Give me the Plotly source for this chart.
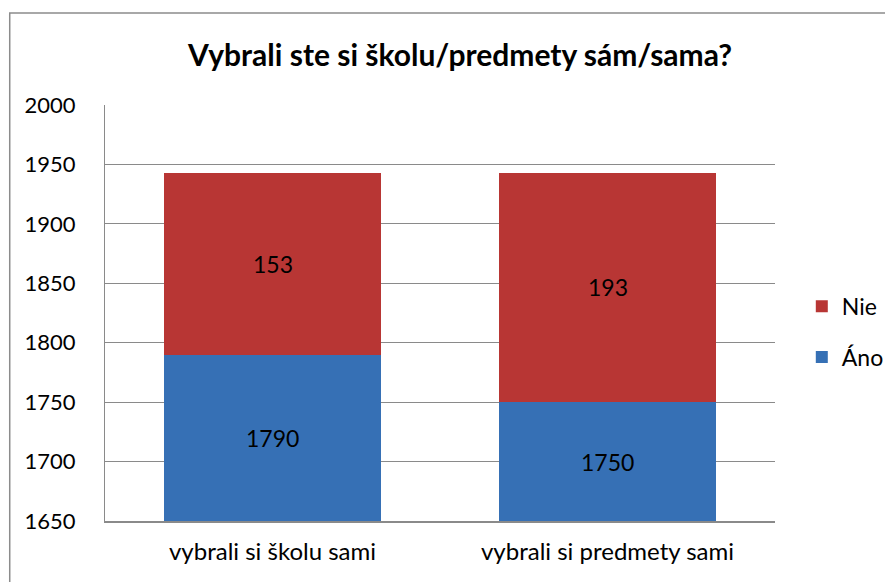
import plotly.graph_objects as go

categories = ["vybrali si školu sami", "vybrali si predmety sami"]
ano = [1790, 1750]
nie = [153, 193]
y_ticks = [1650, 1700, 1750, 1800, 1850, 1900, 1950, 2000]
title = "Vybrali ste si školu/predmety sám/sama?"

FONT = "Lato, 'Open Sans', sans-serif"
y_min, y_max = 1650, 2000

fig = go.Figure()
fig.add_trace(go.Bar(x=categories, y=ano, name="Áno", marker_color="#3670B5",
                     marker_line_width=0, width=0.65, legendgroup="a", legendrank=2,
                     hoverinfo="y"))
fig.add_trace(go.Bar(x=categories, y=nie, name="Nie", marker_color="#B83634",
                     marker_line_width=0, width=0.65, legendgroup="n", legendrank=1,
                     hoverinfo="y"))

# data labels centred in the visible part of each segment
for c, a, n in zip(categories, ano, nie):
    fig.add_annotation(x=c, y=(y_min + a) / 2, text=str(a), showarrow=False,
                       font=dict(family=FONT, size=23, color="black"))
    fig.add_annotation(x=c, y=(max(y_min, a) + a + n) / 2, text=str(n), showarrow=False,
                       font=dict(family=FONT, size=23, color="black"))

# outer chart border
fig.add_shape(type="rect", xref="paper", yref="paper",
              x0=-0.1422, x1=1.3, y0=-0.3, y1=1.2212,
              line=dict(color="#8C8C8C", width=1.5), fillcolor="rgba(0,0,0,0)", layer="below")

fig.update_layout(
    width=893, height=582,
    margin=dict(l=97, r=124, t=97, b=69),
    paper_bgcolor="white", plot_bgcolor="white",
    barmode="stack",
    font=dict(family=FONT, size=23, color="black"),
    title=dict(text="<b>" + title + "</b>", x=448 / 885, xanchor="center",
               y=1 - 47 / 582, yanchor="middle", font=dict(family=FONT, size=30, color="black")),
    legend=dict(x=1.04, y=0.455, xanchor="left", yanchor="middle",
                traceorder="grouped", tracegroupgap=18,
                font=dict(family=FONT, size=23), itemwidth=30),
    showlegend=True,
)
fig.update_yaxes(range=[y_min, y_max], tickvals=y_ticks, showgrid=True,
                 gridcolor="#8A8A8A", gridwidth=1, showline=True, linecolor="#8A8A8A",
                 linewidth=1, ticks="", ticklabelstandoff=24, zeroline=False,
                 tickfont=dict(family=FONT, size=22))
fig.update_xaxes(showline=True, linecolor="#8A8A8A", linewidth=1.5, ticks="",
                 ticklabelstandoff=8, tickfont=dict(family=FONT, size=24))

fig.write_html("out.html")
